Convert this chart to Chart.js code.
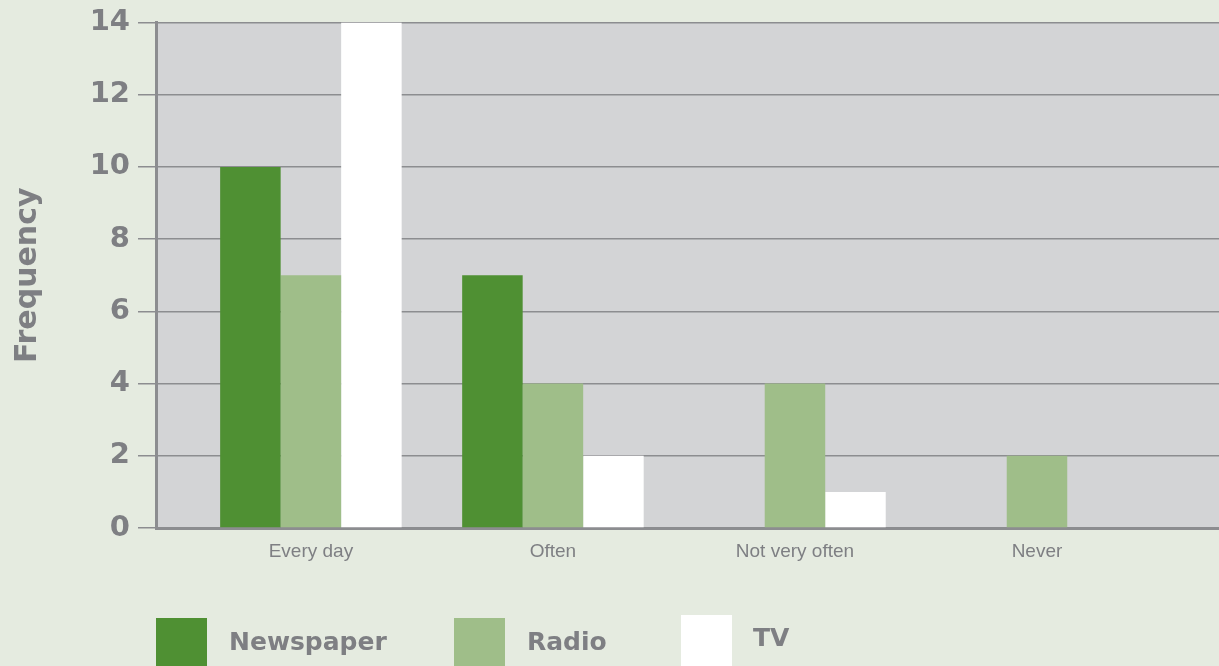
<!DOCTYPE html>
<html>
<head>
<meta charset="utf-8">
<script src="https://cdn.jsdelivr.net/npm/chart.js@4.4.1/dist/chart.umd.min.js"></script>
<style>
    html, body { margin: 0; padding: 0; background: #e5ebe0; overflow: hidden; }
    #wrap { position: relative; width: 1219px; height: 666px; }
    .box { position: absolute; width: 51px; height: 60px; }
    .lbl { position: absolute; font: bold 25px "DejaVu Sans", sans-serif; color: #7e7f83; line-height: 30px; }
</style>
</head>
<body>
<div id="wrap">
    <canvas id="mediaChart" width="1219" height="666"></canvas>
    <!-- legend -->
    <div class="box" style="left:156px; top:618px; background:#4f9033;"></div>
    <div class="lbl" style="left:229px; top:627px;">Newspaper</div>
    <div class="box" style="left:454px; top:618px; background:#9fbe89;"></div>
    <div class="lbl" style="left:527px; top:627px;">Radio</div>
    <div class="box" style="left:681px; top:615px; background:#ffffff;"></div>
    <div class="lbl" style="left:753px; top:623px;">TV</div>
</div>
<script>
// chart data
const categories = ['Every day', 'Often', 'Not very often', 'Never'];
const newspaper = [10, 7, 0, 0];
const radio = [7, 4, 4, 2];
const tv = [14, 2, 1, 0];
const yTicks = [0, 2, 4, 6, 8, 10, 12, 14];

const grey = '#7e7f83';
const lineGrey = '#8c8d90';

// bars sit on a linear x axis so the plot area can run past the last group
function points(values) {
    return values.map((v, i) => ({ x: i, y: v }));
}

// grey plot background
const plotBg = {
    id: 'plotBg',
    beforeDraw(chart) {
        const a = chart.chartArea;
        const ctx = chart.ctx;
        ctx.save();
        ctx.fillStyle = '#d3d4d6';
        ctx.fillRect(a.left, a.top, a.right - a.left, a.bottom - a.top);
        ctx.restore();
    }
};

const ctx = document.getElementById('mediaChart').getContext('2d');
new Chart(ctx, {
    type: 'bar',
    data: {
        datasets: [
            { label: 'Newspaper', data: points(newspaper), backgroundColor: '#4f9033' },
            { label: 'Radio', data: points(radio), backgroundColor: '#9fbe89' },
            { label: 'TV', data: points(tv), backgroundColor: '#ffffff' }
        ]
    },
    options: {
        responsive: false,
        animation: false,
        categoryPercentage: 0.75,
        barPercentage: 1,
        layout: { padding: { top: 22, right: 0, left: 0, bottom: 0 } },
        plugins: {
            legend: { display: false },
            tooltip: { enabled: false }
        },
        scales: {
            x: {
                type: 'linear',
                offset: false,
                min: -0.64,
                max: 3.752,
                afterBuildTicks: axis => { axis.ticks = categories.map((c, i) => ({ value: i })); },
                afterFit: axis => { axis.height = 138; },
                grid: { display: false, drawTicks: false },
                border: { display: true, color: lineGrey, width: 3 },
                ticks: {
                    autoSkip: false,
                    maxRotation: 0,
                    padding: 12,
                    color: grey,
                    font: { family: '"Liberation Sans", Arial, sans-serif', size: 19 },
                    callback: value => categories[value]
                }
            },
            y: {
                min: 0,
                max: 14,
                afterBuildTicks: axis => { axis.ticks = yTicks.map(v => ({ value: v })); },
                afterFit: axis => { axis.width = 156; },
                grid: { color: lineGrey, lineWidth: 1.5, tickLength: 18 },
                border: { display: true, color: lineGrey, width: 3 },
                ticks: {
                    padding: 8,
                    color: grey,
                    font: { family: '"DejaVu Sans", sans-serif', size: 29, weight: 'bold', lineHeight: 1 }
                },
                title: {
                    display: true,
                    text: 'Frequency',
                    color: grey,
                    padding: { top: 10, bottom: 0 },
                    font: { family: '"DejaVu Sans", sans-serif', size: 30, weight: 'bold' }
                }
            }
        }
    },
    plugins: [plotBg]
});
</script>
</body>
</html>
